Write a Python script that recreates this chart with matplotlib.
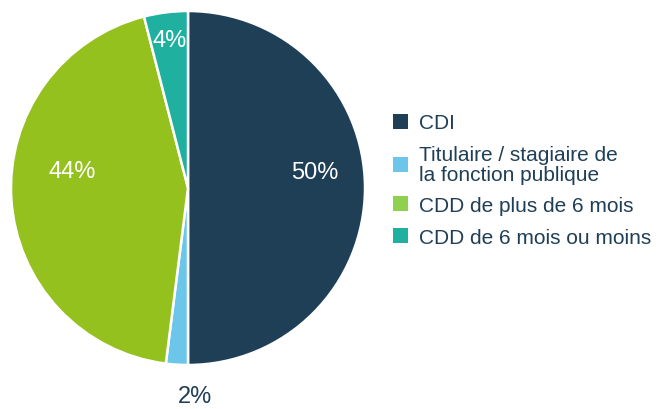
import matplotlib.pyplot as plt
import matplotlib.patches as mpatches
import numpy as np

plt.rcParams['font.family'] = ['Liberation Sans', 'DejaVu Sans']

labels = ['CDI', 'Titulaire / stagiaire de\nla fonction publique',
          'CDD de plus de 6 mois', 'CDD de 6 mois ou moins']
values = [50, 2, 44, 4]
colors = ['#1f3f57', '#6cc6ea', '#95c11f', '#1fb0a0']
legend_colors = ['#1f3f57', '#6cc6ea', '#8fd14f', '#1fb0a0']
text_dark = '#1f3f57'

fig = plt.figure(figsize=(6.59, 4.10), dpi=100)
r_px = 177
ax = fig.add_axes([(188 - r_px) / 659, (410 - 189 - r_px) / 410,
                   2 * r_px / 659, 2 * r_px / 410])

wedges, _ = ax.pie(values, colors=colors, startangle=90, counterclock=False,
                   wedgeprops=dict(edgecolor='white', linewidth=1.8))
ax.set_xlim(-1, 1)
ax.set_ylim(-1, 1)
ax.set_aspect('equal')

# label placement: radius factor, nudges, colour
lab_r = [0.715, 1.19, 0.655, 0.84]
lab_dx = [0.0, 0.117, 0.0, 0.0]
lab_dy = [0.09, 0.01, 0.137, 0.0]
lab_col = ['white', text_dark, 'white', 'white']
for w, v, r, dx, dy, c in zip(wedges, values, lab_r, lab_dx, lab_dy, lab_col):
    ang = np.deg2rad((w.theta1 + w.theta2) / 2)
    ax.text(r * np.cos(ang) + dx, r * np.sin(ang) + dy, f'{v}%',
            ha='center', va='center', fontsize=17, color=c)

handles = [mpatches.Patch(facecolor=c, edgecolor='none') for c in legend_colors]
leg = fig.legend(handles, labels, loc='center left',
                 bbox_to_anchor=(393 / 659, 1 - 181 / 410),
                 frameon=False, fontsize=15, handlelength=0.72, handleheight=0.72,
                 handletextpad=0.55, labelspacing=0.6, borderpad=0,
                 borderaxespad=0)
for t in leg.get_texts():
    t.set_color(text_dark)
    t.set_linespacing(1.05)

fig.savefig('out.png', dpi=100)
